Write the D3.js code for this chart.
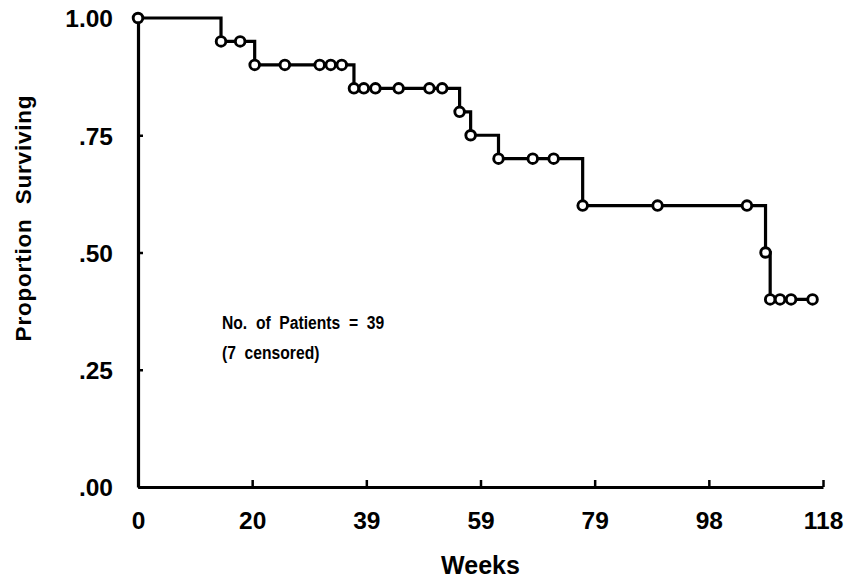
<!DOCTYPE html>
<html>
<head>
<meta charset="utf-8">
<script src="https://cdn.jsdelivr.net/npm/d3@7"></script>
<style>
  body { margin: 0; background: #fff; }
  svg text { font-family: "Liberation Sans", Arial, Helvetica, sans-serif; font-weight: bold; fill: #000; }
</style>
</head>
<body>
<div id="chart"></div>
<script>
// Kaplan-Meier curve, values
const weeks =    [0, 14.3, 17.6, 20.1, 25.3, 31.3, 33.2, 35.1, 37.2, 38.9, 40.9, 44.9, 50.2, 52.4, 55.4, 57.3, 62.1, 68.0, 71.6, 76.6, 89.5, 104.9, 108.1, 108.9, 110.6, 112.5, 116.2];
const survival = [1.00, .95, .95, .90, .90, .90, .90, .90, .85, .85, .85, .85, .85, .85, .80, .75, .70, .70, .70, .60, .60, .60, .50, .40, .40, .40, .40];

const xTickValues = [0, 19.667, 39.333, 59, 78.667, 98.333, 118];
const xTickLabels = ['0', '20', '39', '59', '79', '98', '118'];
const yTickValues = [0, .25, .5, .75, 1];
const yTickLabels = ['.00', '.25', '.50', '.75', '1.00'];

const width = 848, height = 578;
const margin = { left: 138, right: 25, top: 18, bottom: 91 };

const svg = d3.select('#chart')
  .append('svg')
  .attr('width', width)
  .attr('height', height);

const x = d3.scaleLinear().domain([0, 118]).range([margin.left, width - margin.right]);
const y = d3.scaleLinear().domain([0, 1]).range([height - margin.bottom, margin.top]);

// x axis, ticks pointing inwards
const xAxis = svg.append('g')
  .attr('transform', `translate(0,${y(0)})`)
  .call(d3.axisBottom(x)
    .tickValues(xTickValues)
    .tickFormat((d, i) => xTickLabels[i])
    .tickSizeInner(-7)
    .tickSizeOuter(0)
    .tickPadding(25));

// y axis
const yAxis = svg.append('g')
  .attr('transform', `translate(${x(0)},0)`)
  .call(d3.axisLeft(y)
    .tickValues(yTickValues)
    .tickFormat((d, i) => yTickLabels[i])
    .tickSizeInner(-5)
    .tickSizeOuter(0)
    .tickPadding(25));

[xAxis, yAxis].forEach(g => {
  g.select('.domain').attr('stroke', '#000').attr('stroke-width', 3.2);
  g.selectAll('.tick line').attr('stroke', '#000').attr('stroke-width', 2.5);
  g.selectAll('.tick text').attr('font-size', 24.5).attr('fill', '#000');
});
yAxis.selectAll('.tick text').attr('dy', '0.36em');

// survival step curve
const line = d3.line()
  .x((d, i) => x(weeks[i]))
  .y(d => y(d))
  .curve(d3.curveStepAfter);

svg.append('path')
  .datum(survival)
  .attr('d', line)
  .attr('fill', 'none')
  .attr('stroke', '#000')
  .attr('stroke-width', 3.2);

svg.selectAll('.pt')
  .data(survival)
  .enter()
  .append('circle')
  .attr('class', 'pt')
  .attr('cx', (d, i) => x(weeks[i]))
  .attr('cy', d => y(d))
  .attr('r', 4.8)
  .attr('fill', '#fff')
  .attr('stroke', '#000')
  .attr('stroke-width', 2.9);

// axis titles
svg.append('text')
  .attr('x', (x(0) + x(118)) / 2)
  .attr('y', 574)
  .attr('text-anchor', 'middle')
  .attr('font-size', 25)
  .text('Weeks');

svg.append('text')
  .attr('transform', `translate(31,${218}) rotate(-90)`)
  .attr('text-anchor', 'middle')
  .attr('font-size', 22.5)
  .attr('letter-spacing', 0.8)
  .style('white-space', 'pre')
  .text('Proportion  Surviving');

// annotation
const note = svg.append('text')
  .attr('font-size', 18)
  .attr('transform', 'translate(222,0) scale(0.87,1)')
  .style('white-space', 'pre');
note.append('tspan').attr('x', 0).attr('y', 329).text('No.  of  Patients  =  39');
note.append('tspan').attr('x', 0).attr('y', 359).text('(7  censored)');
</script>
</body>
</html>
